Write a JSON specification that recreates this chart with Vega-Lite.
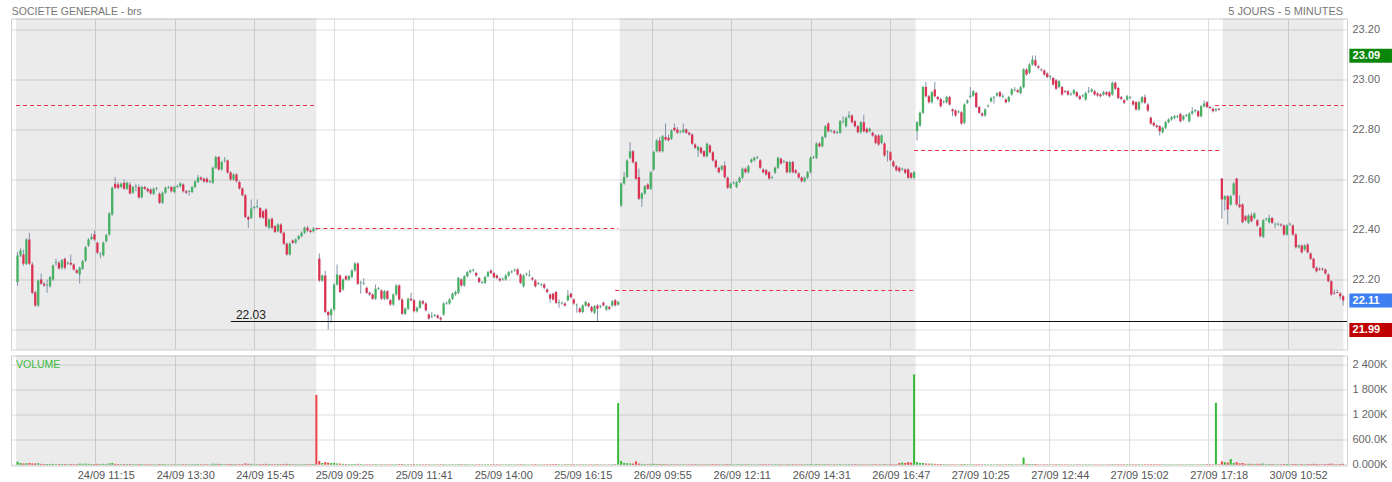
{
"$schema":"https://vega.github.io/schema/vega-lite/v6.json",
"background":"white",
"padding":{"left":10,"top":5.5,"right":0,"bottom":0},
"spacing":4,
"config":{"view":{"stroke":"#d0d0d0"},"font":"Liberation Sans","scale":{"continuousPadding":0},"axis":{"gridColor":"#dddddd","gridWidth":1,"domain":false,"ticks":false,"labelFont":"Liberation Sans","labelOverlap":false,"labelSeparation":0,"labelBound":false}},
"datasets":{
"days":[
{"d":1,"s0":-0.5,"s1":101,"r0":-0.5,"r1":101,"ref":22.896,"shade":1},
{"d":2,"s0":101,"s1":203.5,"r0":101,"r1":203,"ref":22.404,"shade":0},
{"d":3,"s0":203.5,"s1":303.5,"r0":202,"r1":303.5,"ref":22.156,"shade":1},
{"d":4,"s0":303.5,"s1":407.3,"r0":303,"r1":406.3,"ref":22.716,"shade":0},
{"d":5,"s0":407.3,"s1":448.1,"r0":404.7,"r1":448.1,"ref":22.896,"shade":1}
],
"badges":[{"p":23.095,"t":"23.09","k":"high"},{"p":22.116,"t":"22.11","k":"last"},{"p":21.998,"t":"21.99","k":"low"}],
"c":[
{"i":0,"o":22.19,"h":22.31,"l":22.175,"c":22.296,"v":70},
{"i":1,"o":22.296,"h":22.325,"l":22.29,"c":22.316,"v":40},
{"i":2,"o":22.3,"h":22.32,"l":22.255,"c":22.263,"v":30},
{"i":3,"o":22.263,"h":22.365,"l":22.258,"c":22.36,"v":35},
{"i":4,"o":22.36,"h":22.387,"l":22.258,"c":22.263,"v":40},
{"i":5,"o":22.26,"h":22.27,"l":22.14,"c":22.147,"v":30},
{"i":6,"o":22.149,"h":22.155,"l":22.09,"c":22.096,"v":30},
{"i":7,"o":22.096,"h":22.2,"l":22.09,"c":22.196,"v":35},
{"i":8,"o":22.2,"h":22.224,"l":22.178,"c":22.183,"v":20},
{"i":9,"o":22.183,"h":22.19,"l":22.17,"c":22.176,"v":15},
{"i":10,"o":22.176,"h":22.2,"l":22.147,"c":22.179,"v":15},
{"i":11,"o":22.173,"h":22.215,"l":22.168,"c":22.21,"v":15},
{"i":12,"o":22.2,"h":22.26,"l":22.195,"c":22.256,"v":20},
{"i":13,"o":22.267,"h":22.283,"l":22.255,"c":22.27,"v":12},
{"i":14,"o":22.267,"h":22.275,"l":22.24,"c":22.244,"v":15},
{"i":15,"o":22.247,"h":22.282,"l":22.24,"c":22.277,"v":15},
{"i":16,"o":22.283,"h":22.288,"l":22.24,"c":22.247,"v":15},
{"i":17,"o":22.264,"h":22.272,"l":22.258,"c":22.267,"v":10},
{"i":18,"o":22.267,"h":22.3,"l":22.255,"c":22.26,"v":15},
{"i":19,"o":22.26,"h":22.265,"l":22.235,"c":22.24,"v":12},
{"i":20,"o":22.237,"h":22.242,"l":22.222,"c":22.227,"v":12},
{"i":21,"o":22.22,"h":22.252,"l":22.184,"c":22.247,"v":25},
{"i":22,"o":22.243,"h":22.278,"l":22.238,"c":22.273,"v":20},
{"i":23,"o":22.276,"h":22.334,"l":22.27,"c":22.329,"v":25},
{"i":24,"o":22.336,"h":22.365,"l":22.33,"c":22.36,"v":20},
{"i":25,"o":22.362,"h":22.384,"l":22.357,"c":22.37,"v":15},
{"i":26,"o":22.38,"h":22.396,"l":22.355,"c":22.36,"v":15},
{"i":27,"o":22.347,"h":22.352,"l":22.3,"c":22.307,"v":20},
{"i":28,"o":22.3,"h":22.31,"l":22.285,"c":22.303,"v":15},
{"i":29,"o":22.297,"h":22.352,"l":22.292,"c":22.347,"v":20},
{"i":30,"o":22.353,"h":22.382,"l":22.348,"c":22.377,"v":15},
{"i":31,"o":22.38,"h":22.47,"l":22.375,"c":22.464,"v":30},
{"i":32,"o":22.46,"h":22.572,"l":22.455,"c":22.567,"v":40},
{"i":33,"o":22.583,"h":22.61,"l":22.562,"c":22.567,"v":20},
{"i":34,"o":22.58,"h":22.59,"l":22.56,"c":22.567,"v":15},
{"i":35,"o":22.57,"h":22.588,"l":22.565,"c":22.583,"v":12},
{"i":36,"o":22.587,"h":22.6,"l":22.558,"c":22.563,"v":15},
{"i":37,"o":22.563,"h":22.592,"l":22.558,"c":22.587,"v":12},
{"i":38,"o":22.58,"h":22.59,"l":22.54,"c":22.544,"v":15},
{"i":39,"o":22.547,"h":22.575,"l":22.542,"c":22.57,"v":12},
{"i":40,"o":22.57,"h":22.584,"l":22.553,"c":22.573,"v":10},
{"i":41,"o":22.57,"h":22.58,"l":22.523,"c":22.528,"v":15},
{"i":42,"o":22.529,"h":22.575,"l":22.524,"c":22.57,"v":12},
{"i":43,"o":22.57,"h":22.575,"l":22.558,"c":22.563,"v":10},
{"i":44,"o":22.563,"h":22.568,"l":22.548,"c":22.553,"v":10},
{"i":45,"o":22.56,"h":22.565,"l":22.539,"c":22.544,"v":10},
{"i":46,"o":22.543,"h":22.568,"l":22.538,"c":22.563,"v":10},
{"i":47,"o":22.563,"h":22.57,"l":22.555,"c":22.566,"v":8},
{"i":48,"o":22.543,"h":22.548,"l":22.502,"c":22.507,"v":15},
{"i":49,"o":22.507,"h":22.552,"l":22.502,"c":22.547,"v":15},
{"i":50,"o":22.547,"h":22.572,"l":22.542,"c":22.567,"v":12},
{"i":51,"o":22.567,"h":22.575,"l":22.562,"c":22.57,"v":8},
{"i":52,"o":22.57,"h":22.575,"l":22.548,"c":22.553,"v":10},
{"i":53,"o":22.55,"h":22.575,"l":22.545,"c":22.57,"v":10},
{"i":54,"o":22.57,"h":22.58,"l":22.565,"c":22.573,"v":8},
{"i":55,"o":22.573,"h":22.59,"l":22.568,"c":22.584,"v":10},
{"i":56,"o":22.58,"h":22.585,"l":22.548,"c":22.553,"v":12},
{"i":57,"o":22.553,"h":22.558,"l":22.542,"c":22.547,"v":10},
{"i":58,"o":22.55,"h":22.558,"l":22.535,"c":22.553,"v":10},
{"i":59,"o":22.55,"h":22.575,"l":22.545,"c":22.57,"v":10},
{"i":60,"o":22.57,"h":22.597,"l":22.565,"c":22.592,"v":12},
{"i":61,"o":22.59,"h":22.618,"l":22.585,"c":22.608,"v":15},
{"i":62,"o":22.608,"h":22.613,"l":22.595,"c":22.6,"v":10},
{"i":63,"o":22.603,"h":22.608,"l":22.587,"c":22.592,"v":10},
{"i":64,"o":22.603,"h":22.61,"l":22.585,"c":22.59,"v":10},
{"i":65,"o":22.59,"h":22.598,"l":22.585,"c":22.593,"v":8},
{"i":66,"o":22.587,"h":22.652,"l":22.582,"c":22.647,"v":25},
{"i":67,"o":22.647,"h":22.695,"l":22.642,"c":22.69,"v":20},
{"i":68,"o":22.69,"h":22.695,"l":22.635,"c":22.64,"v":20},
{"i":69,"o":22.64,"h":22.675,"l":22.635,"c":22.67,"v":15},
{"i":70,"o":22.676,"h":22.69,"l":22.668,"c":22.679,"v":10},
{"i":71,"o":22.676,"h":22.68,"l":22.623,"c":22.628,"v":15},
{"i":72,"o":22.628,"h":22.633,"l":22.595,"c":22.6,"v":15},
{"i":73,"o":22.6,"h":22.625,"l":22.595,"c":22.62,"v":12},
{"i":74,"o":22.62,"h":22.625,"l":22.588,"c":22.593,"v":12},
{"i":75,"o":22.59,"h":22.595,"l":22.559,"c":22.564,"v":12},
{"i":76,"o":22.564,"h":22.569,"l":22.532,"c":22.537,"v":15},
{"i":77,"o":22.537,"h":22.542,"l":22.445,"c":22.45,"v":30},
{"i":78,"o":22.45,"h":22.455,"l":22.407,"c":22.44,"v":20},
{"i":79,"o":22.447,"h":22.52,"l":22.442,"c":22.484,"v":20},
{"i":80,"o":22.486,"h":22.495,"l":22.48,"c":22.49,"v":10},
{"i":81,"o":22.49,"h":22.52,"l":22.485,"c":22.493,"v":10},
{"i":82,"o":22.486,"h":22.49,"l":22.444,"c":22.449,"v":15},
{"i":83,"o":22.473,"h":22.478,"l":22.442,"c":22.447,"v":12},
{"i":84,"o":22.48,"h":22.485,"l":22.408,"c":22.413,"v":20},
{"i":85,"o":22.407,"h":22.445,"l":22.402,"c":22.44,"v":15},
{"i":86,"o":22.443,"h":22.448,"l":22.402,"c":22.407,"v":12},
{"i":87,"o":22.413,"h":22.418,"l":22.385,"c":22.39,"v":12},
{"i":88,"o":22.393,"h":22.425,"l":22.388,"c":22.42,"v":12},
{"i":89,"o":22.42,"h":22.425,"l":22.382,"c":22.387,"v":12},
{"i":90,"o":22.387,"h":22.392,"l":22.338,"c":22.343,"v":15},
{"i":91,"o":22.343,"h":22.348,"l":22.295,"c":22.3,"v":20},
{"i":92,"o":22.3,"h":22.348,"l":22.295,"c":22.343,"v":15},
{"i":93,"o":22.356,"h":22.36,"l":22.342,"c":22.347,"v":10},
{"i":94,"o":22.347,"h":22.365,"l":22.342,"c":22.36,"v":10},
{"i":95,"o":22.362,"h":22.378,"l":22.357,"c":22.373,"v":10},
{"i":96,"o":22.373,"h":22.392,"l":22.368,"c":22.387,"v":10},
{"i":97,"o":22.387,"h":22.412,"l":22.382,"c":22.407,"v":12},
{"i":98,"o":22.407,"h":22.415,"l":22.39,"c":22.396,"v":12},
{"i":99,"o":22.396,"h":22.4,"l":22.385,"c":22.39,"v":12},
{"i":100,"o":22.393,"h":22.41,"l":22.388,"c":22.404,"v":15},
{"i":101,"o":22.404,"h":22.408,"l":22.398,"c":22.401,"v":1678},
{"i":102,"o":22.284,"h":22.304,"l":22.19,"c":22.196,"v":90},
{"i":103,"o":22.196,"h":22.22,"l":22.19,"c":22.216,"v":40},
{"i":104,"o":22.216,"h":22.235,"l":22.065,"c":22.07,"v":60},
{"i":105,"o":22.07,"h":22.075,"l":22.0,"c":22.057,"v":50},
{"i":106,"o":22.057,"h":22.085,"l":22.027,"c":22.08,"v":40},
{"i":107,"o":22.08,"h":22.185,"l":22.075,"c":22.18,"v":40},
{"i":108,"o":22.18,"h":22.26,"l":22.175,"c":22.22,"v":30},
{"i":109,"o":22.216,"h":22.22,"l":22.145,"c":22.15,"v":25},
{"i":110,"o":22.16,"h":22.205,"l":22.155,"c":22.2,"v":20},
{"i":111,"o":22.213,"h":22.218,"l":22.195,"c":22.2,"v":15},
{"i":112,"o":22.2,"h":22.218,"l":22.195,"c":22.213,"v":12},
{"i":113,"o":22.21,"h":22.241,"l":22.205,"c":22.236,"v":15},
{"i":114,"o":22.236,"h":22.269,"l":22.231,"c":22.264,"v":15},
{"i":115,"o":22.264,"h":22.269,"l":22.178,"c":22.183,"v":20},
{"i":116,"o":22.187,"h":22.195,"l":22.143,"c":22.19,"v":12},
{"i":117,"o":22.183,"h":22.205,"l":22.178,"c":22.186,"v":10},
{"i":118,"o":22.167,"h":22.172,"l":22.142,"c":22.147,"v":12},
{"i":119,"o":22.147,"h":22.152,"l":22.135,"c":22.14,"v":10},
{"i":120,"o":22.14,"h":22.145,"l":22.118,"c":22.123,"v":10},
{"i":121,"o":22.123,"h":22.18,"l":22.118,"c":22.163,"v":12},
{"i":122,"o":22.163,"h":22.17,"l":22.158,"c":22.166,"v":8},
{"i":123,"o":22.156,"h":22.161,"l":22.118,"c":22.123,"v":12},
{"i":124,"o":22.123,"h":22.158,"l":22.118,"c":22.153,"v":10},
{"i":125,"o":22.153,"h":22.158,"l":22.118,"c":22.123,"v":10},
{"i":126,"o":22.117,"h":22.122,"l":22.095,"c":22.1,"v":10},
{"i":127,"o":22.1,"h":22.145,"l":22.095,"c":22.14,"v":12},
{"i":128,"o":22.14,"h":22.181,"l":22.135,"c":22.176,"v":12},
{"i":129,"o":22.176,"h":22.181,"l":22.115,"c":22.12,"v":15},
{"i":130,"o":22.12,"h":22.125,"l":22.058,"c":22.063,"v":15},
{"i":131,"o":22.063,"h":22.088,"l":22.058,"c":22.083,"v":10},
{"i":132,"o":22.083,"h":22.128,"l":22.078,"c":22.123,"v":10},
{"i":133,"o":22.123,"h":22.147,"l":22.112,"c":22.117,"v":10},
{"i":134,"o":22.117,"h":22.122,"l":22.068,"c":22.073,"v":12},
{"i":135,"o":22.073,"h":22.092,"l":22.068,"c":22.087,"v":10},
{"i":136,"o":22.087,"h":22.118,"l":22.082,"c":22.113,"v":10},
{"i":137,"o":22.113,"h":22.118,"l":22.099,"c":22.104,"v":8},
{"i":138,"o":22.104,"h":22.109,"l":22.072,"c":22.077,"v":10},
{"i":139,"o":22.06,"h":22.065,"l":22.039,"c":22.044,"v":10},
{"i":140,"o":22.05,"h":22.07,"l":22.045,"c":22.053,"v":8},
{"i":141,"o":22.056,"h":22.062,"l":22.05,"c":22.059,"v":8},
{"i":142,"o":22.056,"h":22.061,"l":22.042,"c":22.047,"v":8},
{"i":143,"o":22.047,"h":22.052,"l":22.035,"c":22.04,"v":10},
{"i":144,"o":22.06,"h":22.109,"l":22.055,"c":22.104,"v":12},
{"i":145,"o":22.104,"h":22.112,"l":22.099,"c":22.107,"v":8},
{"i":146,"o":22.104,"h":22.125,"l":22.099,"c":22.12,"v":10},
{"i":147,"o":22.123,"h":22.148,"l":22.118,"c":22.143,"v":10},
{"i":148,"o":22.14,"h":22.155,"l":22.135,"c":22.15,"v":10},
{"i":149,"o":22.147,"h":22.211,"l":22.142,"c":22.206,"v":15},
{"i":150,"o":22.2,"h":22.205,"l":22.171,"c":22.176,"v":12},
{"i":151,"o":22.176,"h":22.218,"l":22.171,"c":22.213,"v":12},
{"i":152,"o":22.213,"h":22.234,"l":22.208,"c":22.229,"v":10},
{"i":153,"o":22.229,"h":22.241,"l":22.224,"c":22.236,"v":10},
{"i":154,"o":22.236,"h":22.244,"l":22.231,"c":22.239,"v":8},
{"i":155,"o":22.226,"h":22.231,"l":22.211,"c":22.216,"v":10},
{"i":156,"o":22.206,"h":22.211,"l":22.185,"c":22.19,"v":10},
{"i":157,"o":22.187,"h":22.195,"l":22.182,"c":22.19,"v":8},
{"i":158,"o":22.187,"h":22.215,"l":22.182,"c":22.21,"v":10},
{"i":159,"o":22.213,"h":22.234,"l":22.208,"c":22.229,"v":10},
{"i":160,"o":22.236,"h":22.241,"l":22.221,"c":22.226,"v":10},
{"i":161,"o":22.226,"h":22.231,"l":22.204,"c":22.209,"v":10},
{"i":162,"o":22.216,"h":22.221,"l":22.201,"c":22.206,"v":10},
{"i":163,"o":22.203,"h":22.208,"l":22.191,"c":22.196,"v":10},
{"i":164,"o":22.2,"h":22.208,"l":22.195,"c":22.203,"v":8},
{"i":165,"o":22.2,"h":22.221,"l":22.195,"c":22.216,"v":10},
{"i":166,"o":22.216,"h":22.234,"l":22.211,"c":22.229,"v":10},
{"i":167,"o":22.229,"h":22.237,"l":22.224,"c":22.232,"v":8},
{"i":168,"o":22.236,"h":22.243,"l":22.231,"c":22.239,"v":8},
{"i":169,"o":22.24,"h":22.245,"l":22.215,"c":22.22,"v":10},
{"i":170,"o":22.22,"h":22.225,"l":22.182,"c":22.187,"v":12},
{"i":171,"o":22.173,"h":22.221,"l":22.168,"c":22.216,"v":12},
{"i":172,"o":22.22,"h":22.227,"l":22.215,"c":22.223,"v":8},
{"i":173,"o":22.216,"h":22.237,"l":22.211,"c":22.219,"v":8},
{"i":174,"o":22.206,"h":22.211,"l":22.195,"c":22.2,"v":10},
{"i":175,"o":22.196,"h":22.201,"l":22.168,"c":22.173,"v":12},
{"i":176,"o":22.183,"h":22.19,"l":22.178,"c":22.186,"v":8},
{"i":177,"o":22.177,"h":22.185,"l":22.172,"c":22.18,"v":8},
{"i":178,"o":22.18,"h":22.185,"l":22.162,"c":22.167,"v":10},
{"i":179,"o":22.16,"h":22.165,"l":22.145,"c":22.15,"v":10},
{"i":180,"o":22.14,"h":22.145,"l":22.107,"c":22.123,"v":12},
{"i":181,"o":22.143,"h":22.148,"l":22.115,"c":22.12,"v":12},
{"i":182,"o":22.15,"h":22.155,"l":22.102,"c":22.107,"v":15},
{"i":183,"o":22.107,"h":22.12,"l":22.087,"c":22.11,"v":10},
{"i":184,"o":22.104,"h":22.112,"l":22.099,"c":22.107,"v":8},
{"i":185,"o":22.104,"h":22.109,"l":22.091,"c":22.096,"v":10},
{"i":186,"o":22.117,"h":22.158,"l":22.112,"c":22.136,"v":12},
{"i":187,"o":22.143,"h":22.148,"l":22.124,"c":22.129,"v":10},
{"i":188,"o":22.12,"h":22.125,"l":22.099,"c":22.104,"v":10},
{"i":189,"o":22.096,"h":22.104,"l":22.067,"c":22.099,"v":8},
{"i":190,"o":22.084,"h":22.089,"l":22.065,"c":22.07,"v":10},
{"i":191,"o":22.07,"h":22.101,"l":22.065,"c":22.096,"v":10},
{"i":192,"o":22.096,"h":22.115,"l":22.091,"c":22.11,"v":10},
{"i":193,"o":22.104,"h":22.109,"l":22.088,"c":22.093,"v":8},
{"i":194,"o":22.09,"h":22.095,"l":22.068,"c":22.073,"v":10},
{"i":195,"o":22.067,"h":22.098,"l":22.062,"c":22.093,"v":10},
{"i":196,"o":22.096,"h":22.101,"l":22.033,"c":22.083,"v":12},
{"i":197,"o":22.09,"h":22.098,"l":22.085,"c":22.093,"v":8},
{"i":198,"o":22.107,"h":22.112,"l":22.092,"c":22.097,"v":8},
{"i":199,"o":22.08,"h":22.098,"l":22.075,"c":22.093,"v":8},
{"i":200,"o":22.09,"h":22.095,"l":22.078,"c":22.083,"v":8},
{"i":201,"o":22.096,"h":22.118,"l":22.091,"c":22.113,"v":10},
{"i":202,"o":22.117,"h":22.122,"l":22.092,"c":22.097,"v":12},
{"i":203,"o":22.1,"h":22.115,"l":22.095,"c":22.11,"v":1482},
{"i":204,"o":22.496,"h":22.589,"l":22.49,"c":22.584,"v":90},
{"i":205,"o":22.584,"h":22.63,"l":22.579,"c":22.61,"v":40},
{"i":206,"o":22.61,"h":22.681,"l":22.605,"c":22.676,"v":35},
{"i":207,"o":22.687,"h":22.749,"l":22.682,"c":22.713,"v":30},
{"i":208,"o":22.713,"h":22.718,"l":22.664,"c":22.669,"v":25},
{"i":209,"o":22.669,"h":22.674,"l":22.598,"c":22.603,"v":80},
{"i":210,"o":22.61,"h":22.644,"l":22.518,"c":22.523,"v":25},
{"i":211,"o":22.523,"h":22.549,"l":22.49,"c":22.544,"v":20},
{"i":212,"o":22.544,"h":22.578,"l":22.539,"c":22.573,"v":15},
{"i":213,"o":22.58,"h":22.585,"l":22.558,"c":22.563,"v":12},
{"i":214,"o":22.563,"h":22.634,"l":22.558,"c":22.629,"v":20},
{"i":215,"o":22.64,"h":22.715,"l":22.635,"c":22.71,"v":20},
{"i":216,"o":22.713,"h":22.761,"l":22.708,"c":22.756,"v":15},
{"i":217,"o":22.756,"h":22.77,"l":22.708,"c":22.713,"v":15},
{"i":218,"o":22.713,"h":22.778,"l":22.708,"c":22.773,"v":15},
{"i":219,"o":22.77,"h":22.824,"l":22.755,"c":22.76,"v":12},
{"i":220,"o":22.767,"h":22.78,"l":22.752,"c":22.757,"v":10},
{"i":221,"o":22.763,"h":22.801,"l":22.758,"c":22.796,"v":12},
{"i":222,"o":22.807,"h":22.824,"l":22.792,"c":22.797,"v":10},
{"i":223,"o":22.8,"h":22.81,"l":22.782,"c":22.787,"v":10},
{"i":224,"o":22.789,"h":22.797,"l":22.784,"c":22.792,"v":8},
{"i":225,"o":22.79,"h":22.824,"l":22.785,"c":22.8,"v":10},
{"i":226,"o":22.8,"h":22.805,"l":22.782,"c":22.787,"v":8},
{"i":227,"o":22.787,"h":22.792,"l":22.775,"c":22.78,"v":8},
{"i":228,"o":22.78,"h":22.785,"l":22.738,"c":22.743,"v":12},
{"i":229,"o":22.74,"h":22.745,"l":22.722,"c":22.727,"v":10},
{"i":230,"o":22.717,"h":22.735,"l":22.69,"c":22.73,"v":10},
{"i":231,"o":22.727,"h":22.732,"l":22.702,"c":22.707,"v":10},
{"i":232,"o":22.713,"h":22.718,"l":22.688,"c":22.693,"v":10},
{"i":233,"o":22.693,"h":22.748,"l":22.688,"c":22.743,"v":12},
{"i":234,"o":22.736,"h":22.741,"l":22.704,"c":22.709,"v":10},
{"i":235,"o":22.709,"h":22.714,"l":22.671,"c":22.676,"v":12},
{"i":236,"o":22.676,"h":22.681,"l":22.644,"c":22.649,"v":12},
{"i":237,"o":22.647,"h":22.652,"l":22.624,"c":22.629,"v":10},
{"i":238,"o":22.64,"h":22.658,"l":22.635,"c":22.653,"v":10},
{"i":239,"o":22.656,"h":22.673,"l":22.604,"c":22.609,"v":12},
{"i":240,"o":22.607,"h":22.612,"l":22.562,"c":22.567,"v":15},
{"i":241,"o":22.567,"h":22.588,"l":22.562,"c":22.583,"v":10},
{"i":242,"o":22.585,"h":22.593,"l":22.58,"c":22.588,"v":8},
{"i":243,"o":22.57,"h":22.594,"l":22.565,"c":22.589,"v":10},
{"i":244,"o":22.59,"h":22.612,"l":22.585,"c":22.607,"v":10},
{"i":245,"o":22.607,"h":22.648,"l":22.602,"c":22.643,"v":12},
{"i":246,"o":22.643,"h":22.648,"l":22.624,"c":22.629,"v":10},
{"i":247,"o":22.629,"h":22.658,"l":22.624,"c":22.653,"v":10},
{"i":248,"o":22.67,"h":22.685,"l":22.665,"c":22.68,"v":8},
{"i":249,"o":22.677,"h":22.692,"l":22.672,"c":22.687,"v":8},
{"i":250,"o":22.687,"h":22.695,"l":22.682,"c":22.69,"v":8},
{"i":251,"o":22.677,"h":22.682,"l":22.642,"c":22.647,"v":10},
{"i":252,"o":22.64,"h":22.645,"l":22.624,"c":22.629,"v":10},
{"i":253,"o":22.637,"h":22.642,"l":22.615,"c":22.62,"v":10},
{"i":254,"o":22.629,"h":22.634,"l":22.599,"c":22.604,"v":10},
{"i":255,"o":22.607,"h":22.615,"l":22.602,"c":22.61,"v":8},
{"i":256,"o":22.627,"h":22.652,"l":22.622,"c":22.647,"v":10},
{"i":257,"o":22.647,"h":22.692,"l":22.642,"c":22.687,"v":12},
{"i":258,"o":22.683,"h":22.688,"l":22.659,"c":22.664,"v":10},
{"i":259,"o":22.67,"h":22.678,"l":22.665,"c":22.673,"v":8},
{"i":260,"o":22.67,"h":22.675,"l":22.624,"c":22.629,"v":12},
{"i":261,"o":22.629,"h":22.675,"l":22.624,"c":22.67,"v":10},
{"i":262,"o":22.67,"h":22.675,"l":22.624,"c":22.629,"v":10},
{"i":263,"o":22.637,"h":22.642,"l":22.622,"c":22.627,"v":8},
{"i":264,"o":22.624,"h":22.629,"l":22.603,"c":22.608,"v":10},
{"i":265,"o":22.608,"h":22.613,"l":22.588,"c":22.593,"v":10},
{"i":266,"o":22.593,"h":22.612,"l":22.588,"c":22.607,"v":10},
{"i":267,"o":22.607,"h":22.634,"l":22.602,"c":22.629,"v":10},
{"i":268,"o":22.629,"h":22.692,"l":22.624,"c":22.687,"v":15},
{"i":269,"o":22.687,"h":22.695,"l":22.682,"c":22.69,"v":8},
{"i":270,"o":22.687,"h":22.749,"l":22.682,"c":22.744,"v":15},
{"i":271,"o":22.744,"h":22.749,"l":22.728,"c":22.733,"v":10},
{"i":272,"o":22.733,"h":22.775,"l":22.728,"c":22.77,"v":12},
{"i":273,"o":22.77,"h":22.818,"l":22.765,"c":22.813,"v":12},
{"i":274,"o":22.824,"h":22.829,"l":22.788,"c":22.793,"v":10},
{"i":275,"o":22.793,"h":22.8,"l":22.788,"c":22.796,"v":8},
{"i":276,"o":22.793,"h":22.798,"l":22.782,"c":22.787,"v":8},
{"i":277,"o":22.787,"h":22.795,"l":22.782,"c":22.79,"v":8},
{"i":278,"o":22.787,"h":22.838,"l":22.782,"c":22.833,"v":12},
{"i":279,"o":22.829,"h":22.853,"l":22.824,"c":22.832,"v":8},
{"i":280,"o":22.813,"h":22.852,"l":22.808,"c":22.847,"v":10},
{"i":281,"o":22.849,"h":22.873,"l":22.844,"c":22.856,"v":10},
{"i":282,"o":22.856,"h":22.861,"l":22.824,"c":22.829,"v":10},
{"i":283,"o":22.833,"h":22.838,"l":22.808,"c":22.813,"v":10},
{"i":284,"o":22.813,"h":22.818,"l":22.784,"c":22.789,"v":10},
{"i":285,"o":22.789,"h":22.834,"l":22.784,"c":22.829,"v":10},
{"i":286,"o":22.829,"h":22.859,"l":22.788,"c":22.793,"v":10},
{"i":287,"o":22.803,"h":22.808,"l":22.784,"c":22.789,"v":8},
{"i":288,"o":22.793,"h":22.808,"l":22.788,"c":22.803,"v":8},
{"i":289,"o":22.787,"h":22.792,"l":22.771,"c":22.776,"v":8},
{"i":290,"o":22.776,"h":22.781,"l":22.741,"c":22.746,"v":10},
{"i":291,"o":22.776,"h":22.781,"l":22.735,"c":22.74,"v":10},
{"i":292,"o":22.746,"h":22.781,"l":22.741,"c":22.776,"v":10},
{"i":293,"o":22.744,"h":22.749,"l":22.691,"c":22.696,"v":12},
{"i":294,"o":22.709,"h":22.717,"l":22.672,"c":22.712,"v":8},
{"i":295,"o":22.709,"h":22.714,"l":22.672,"c":22.677,"v":12},
{"i":296,"o":22.672,"h":22.677,"l":22.648,"c":22.653,"v":10},
{"i":297,"o":22.653,"h":22.658,"l":22.632,"c":22.637,"v":10},
{"i":298,"o":22.647,"h":22.652,"l":22.628,"c":22.633,"v":40},
{"i":299,"o":22.64,"h":22.648,"l":22.635,"c":22.643,"v":50},
{"i":300,"o":22.64,"h":22.645,"l":22.622,"c":22.627,"v":40},
{"i":301,"o":22.64,"h":22.645,"l":22.602,"c":22.607,"v":60},
{"i":302,"o":22.625,"h":22.63,"l":22.602,"c":22.607,"v":50},
{"i":303,"o":22.607,"h":22.634,"l":22.602,"c":22.629,"v":2172},
{"i":304,"o":22.793,"h":22.834,"l":22.756,"c":22.829,"v":60},
{"i":305,"o":22.816,"h":22.872,"l":22.811,"c":22.867,"v":40},
{"i":306,"o":22.867,"h":22.975,"l":22.862,"c":22.97,"v":40},
{"i":307,"o":22.97,"h":22.99,"l":22.928,"c":22.933,"v":30},
{"i":308,"o":22.933,"h":22.938,"l":22.904,"c":22.909,"v":25},
{"i":309,"o":22.909,"h":22.954,"l":22.904,"c":22.949,"v":25},
{"i":310,"o":22.96,"h":22.99,"l":22.928,"c":22.933,"v":20},
{"i":311,"o":22.93,"h":22.935,"l":22.917,"c":22.922,"v":15},
{"i":312,"o":22.922,"h":22.927,"l":22.888,"c":22.893,"v":15},
{"i":313,"o":22.909,"h":22.917,"l":22.904,"c":22.912,"v":10},
{"i":314,"o":22.909,"h":22.935,"l":22.904,"c":22.93,"v":10},
{"i":315,"o":22.93,"h":22.935,"l":22.895,"c":22.9,"v":12},
{"i":316,"o":22.88,"h":22.885,"l":22.853,"c":22.873,"v":10},
{"i":317,"o":22.876,"h":22.881,"l":22.851,"c":22.856,"v":10},
{"i":318,"o":22.869,"h":22.877,"l":22.864,"c":22.872,"v":8},
{"i":319,"o":22.869,"h":22.874,"l":22.819,"c":22.824,"v":12},
{"i":320,"o":22.827,"h":22.905,"l":22.822,"c":22.9,"v":15},
{"i":321,"o":22.907,"h":22.921,"l":22.902,"c":22.916,"v":10},
{"i":322,"o":22.93,"h":22.97,"l":22.925,"c":22.936,"v":10},
{"i":323,"o":22.936,"h":22.958,"l":22.931,"c":22.953,"v":10},
{"i":324,"o":22.946,"h":22.951,"l":22.885,"c":22.89,"v":12},
{"i":325,"o":22.89,"h":22.895,"l":22.862,"c":22.867,"v":12},
{"i":326,"o":22.864,"h":22.869,"l":22.851,"c":22.856,"v":10},
{"i":327,"o":22.856,"h":22.885,"l":22.851,"c":22.88,"v":10},
{"i":328,"o":22.893,"h":22.9,"l":22.888,"c":22.896,"v":8},
{"i":329,"o":22.913,"h":22.931,"l":22.908,"c":22.926,"v":10},
{"i":330,"o":22.926,"h":22.934,"l":22.904,"c":22.929,"v":8},
{"i":331,"o":22.936,"h":22.949,"l":22.931,"c":22.944,"v":10},
{"i":332,"o":22.949,"h":22.954,"l":22.928,"c":22.933,"v":10},
{"i":333,"o":22.93,"h":22.943,"l":22.925,"c":22.933,"v":8},
{"i":334,"o":22.92,"h":22.925,"l":22.904,"c":22.909,"v":10},
{"i":335,"o":22.913,"h":22.935,"l":22.908,"c":22.93,"v":10},
{"i":336,"o":22.94,"h":22.965,"l":22.935,"c":22.96,"v":10},
{"i":337,"o":22.957,"h":22.97,"l":22.952,"c":22.96,"v":8},
{"i":338,"o":22.957,"h":22.962,"l":22.945,"c":22.95,"v":8},
{"i":339,"o":22.946,"h":22.974,"l":22.941,"c":22.969,"v":10},
{"i":340,"o":22.969,"h":23.045,"l":22.964,"c":23.04,"v":170},
{"i":341,"o":23.04,"h":23.045,"l":23.015,"c":23.02,"v":20},
{"i":342,"o":23.027,"h":23.065,"l":23.022,"c":23.06,"v":15},
{"i":343,"o":23.06,"h":23.096,"l":23.055,"c":23.08,"v":15},
{"i":344,"o":23.077,"h":23.096,"l":23.051,"c":23.056,"v":15},
{"i":345,"o":23.053,"h":23.058,"l":23.042,"c":23.047,"v":10},
{"i":346,"o":23.04,"h":23.045,"l":23.032,"c":23.037,"v":8},
{"i":347,"o":23.036,"h":23.041,"l":23.015,"c":23.02,"v":10},
{"i":348,"o":23.024,"h":23.029,"l":23.005,"c":23.01,"v":10},
{"i":349,"o":23.01,"h":23.018,"l":23.0,"c":23.013,"v":8},
{"i":350,"o":23.006,"h":23.011,"l":22.975,"c":22.98,"v":10},
{"i":351,"o":22.997,"h":23.002,"l":22.958,"c":22.963,"v":12},
{"i":352,"o":22.97,"h":22.998,"l":22.965,"c":22.993,"v":10},
{"i":353,"o":22.97,"h":22.975,"l":22.935,"c":22.94,"v":10},
{"i":354,"o":22.953,"h":22.958,"l":22.945,"c":22.95,"v":8},
{"i":355,"o":22.953,"h":22.958,"l":22.935,"c":22.94,"v":8},
{"i":356,"o":22.94,"h":22.948,"l":22.935,"c":22.943,"v":8},
{"i":357,"o":22.944,"h":22.962,"l":22.939,"c":22.957,"v":8},
{"i":358,"o":22.949,"h":22.954,"l":22.928,"c":22.933,"v":8},
{"i":359,"o":22.933,"h":22.938,"l":22.917,"c":22.922,"v":10},
{"i":360,"o":22.933,"h":22.941,"l":22.928,"c":22.936,"v":8},
{"i":361,"o":22.92,"h":22.951,"l":22.915,"c":22.946,"v":10},
{"i":362,"o":22.95,"h":22.97,"l":22.945,"c":22.953,"v":8},
{"i":363,"o":22.953,"h":22.965,"l":22.948,"c":22.96,"v":8},
{"i":364,"o":22.953,"h":22.958,"l":22.935,"c":22.94,"v":8},
{"i":365,"o":22.944,"h":22.949,"l":22.931,"c":22.936,"v":8},
{"i":366,"o":22.94,"h":22.945,"l":22.928,"c":22.933,"v":8},
{"i":367,"o":22.94,"h":22.954,"l":22.935,"c":22.949,"v":8},
{"i":368,"o":22.949,"h":22.954,"l":22.935,"c":22.94,"v":8},
{"i":369,"o":22.949,"h":22.954,"l":22.928,"c":22.933,"v":8},
{"i":370,"o":22.94,"h":22.992,"l":22.935,"c":22.987,"v":12},
{"i":371,"o":22.987,"h":22.992,"l":22.958,"c":22.963,"v":10},
{"i":372,"o":22.966,"h":22.971,"l":22.921,"c":22.926,"v":12},
{"i":373,"o":22.929,"h":22.934,"l":22.917,"c":22.922,"v":10},
{"i":374,"o":22.917,"h":22.922,"l":22.902,"c":22.907,"v":10},
{"i":375,"o":22.92,"h":22.938,"l":22.915,"c":22.933,"v":10},
{"i":376,"o":22.926,"h":22.934,"l":22.921,"c":22.929,"v":8},
{"i":377,"o":22.913,"h":22.918,"l":22.895,"c":22.9,"v":10},
{"i":378,"o":22.909,"h":22.914,"l":22.875,"c":22.88,"v":10},
{"i":379,"o":22.88,"h":22.914,"l":22.875,"c":22.909,"v":10},
{"i":380,"o":22.909,"h":22.934,"l":22.904,"c":22.929,"v":10},
{"i":381,"o":22.929,"h":22.94,"l":22.902,"c":22.907,"v":10},
{"i":382,"o":22.9,"h":22.905,"l":22.871,"c":22.876,"v":10},
{"i":383,"o":22.847,"h":22.852,"l":22.819,"c":22.824,"v":12},
{"i":384,"o":22.827,"h":22.832,"l":22.811,"c":22.816,"v":10},
{"i":385,"o":22.816,"h":22.821,"l":22.805,"c":22.81,"v":10},
{"i":386,"o":22.813,"h":22.818,"l":22.776,"c":22.793,"v":12},
{"i":387,"o":22.789,"h":22.812,"l":22.784,"c":22.807,"v":10},
{"i":388,"o":22.807,"h":22.834,"l":22.802,"c":22.829,"v":10},
{"i":389,"o":22.829,"h":22.845,"l":22.824,"c":22.84,"v":10},
{"i":390,"o":22.84,"h":22.854,"l":22.835,"c":22.849,"v":8},
{"i":391,"o":22.846,"h":22.858,"l":22.841,"c":22.853,"v":8},
{"i":392,"o":22.85,"h":22.858,"l":22.845,"c":22.853,"v":8},
{"i":393,"o":22.862,"h":22.867,"l":22.828,"c":22.833,"v":10},
{"i":394,"o":22.84,"h":22.858,"l":22.835,"c":22.853,"v":8},
{"i":395,"o":22.855,"h":22.863,"l":22.85,"c":22.858,"v":8},
{"i":396,"o":22.833,"h":22.869,"l":22.828,"c":22.864,"v":10},
{"i":397,"o":22.864,"h":22.89,"l":22.859,"c":22.873,"v":10},
{"i":398,"o":22.873,"h":22.882,"l":22.868,"c":22.877,"v":8},
{"i":399,"o":22.873,"h":22.878,"l":22.848,"c":22.853,"v":10},
{"i":400,"o":22.853,"h":22.898,"l":22.848,"c":22.893,"v":10},
{"i":401,"o":22.893,"h":22.917,"l":22.888,"c":22.904,"v":10},
{"i":402,"o":22.909,"h":22.914,"l":22.885,"c":22.89,"v":12},
{"i":403,"o":22.89,"h":22.895,"l":22.881,"c":22.886,"v":10},
{"i":404,"o":22.883,"h":22.888,"l":22.868,"c":22.873,"v":10},
{"i":405,"o":22.876,"h":22.886,"l":22.871,"c":22.881,"v":1489},
{"i":406,"o":22.883,"h":22.886,"l":22.876,"c":22.879,"v":12},
{"i":407,"o":22.604,"h":22.606,"l":22.443,"c":22.52,"v":80},
{"i":408,"o":22.52,"h":22.538,"l":22.476,"c":22.533,"v":60},
{"i":409,"o":22.533,"h":22.538,"l":22.42,"c":22.48,"v":50},
{"i":410,"o":22.5,"h":22.538,"l":22.495,"c":22.533,"v":135},
{"i":411,"o":22.54,"h":22.589,"l":22.535,"c":22.584,"v":40},
{"i":412,"o":22.604,"h":22.606,"l":22.495,"c":22.5,"v":60},
{"i":413,"o":22.5,"h":22.536,"l":22.485,"c":22.49,"v":30},
{"i":414,"o":22.5,"h":22.505,"l":22.424,"c":22.429,"v":40},
{"i":415,"o":22.453,"h":22.458,"l":22.432,"c":22.437,"v":20},
{"i":416,"o":22.427,"h":22.461,"l":22.422,"c":22.456,"v":20},
{"i":417,"o":22.456,"h":22.467,"l":22.428,"c":22.433,"v":20},
{"i":418,"o":22.446,"h":22.469,"l":22.441,"c":22.464,"v":15},
{"i":419,"o":22.437,"h":22.442,"l":22.411,"c":22.416,"v":20},
{"i":420,"o":22.407,"h":22.412,"l":22.368,"c":22.373,"v":20},
{"i":421,"o":22.371,"h":22.442,"l":22.366,"c":22.437,"v":25},
{"i":422,"o":22.44,"h":22.448,"l":22.435,"c":22.443,"v":10},
{"i":423,"o":22.429,"h":22.46,"l":22.424,"c":22.446,"v":15},
{"i":424,"o":22.446,"h":22.451,"l":22.422,"c":22.427,"v":15},
{"i":425,"o":22.42,"h":22.428,"l":22.405,"c":22.423,"v":10},
{"i":426,"o":22.42,"h":22.428,"l":22.415,"c":22.423,"v":10},
{"i":427,"o":22.42,"h":22.425,"l":22.411,"c":22.416,"v":10},
{"i":428,"o":22.416,"h":22.421,"l":22.375,"c":22.38,"v":15},
{"i":429,"o":22.38,"h":22.421,"l":22.375,"c":22.416,"v":15},
{"i":430,"o":22.42,"h":22.428,"l":22.415,"c":22.423,"v":10},
{"i":431,"o":22.416,"h":22.421,"l":22.375,"c":22.38,"v":15},
{"i":432,"o":22.38,"h":22.385,"l":22.324,"c":22.329,"v":20},
{"i":433,"o":22.329,"h":22.341,"l":22.324,"c":22.336,"v":10},
{"i":434,"o":22.336,"h":22.341,"l":22.304,"c":22.309,"v":15},
{"i":435,"o":22.32,"h":22.341,"l":22.315,"c":22.336,"v":10},
{"i":436,"o":22.34,"h":22.345,"l":22.304,"c":22.309,"v":15},
{"i":437,"o":22.304,"h":22.309,"l":22.278,"c":22.283,"v":15},
{"i":438,"o":22.283,"h":22.288,"l":22.242,"c":22.247,"v":20},
{"i":439,"o":22.247,"h":22.252,"l":22.228,"c":22.233,"v":15},
{"i":440,"o":22.243,"h":22.248,"l":22.235,"c":22.24,"v":10},
{"i":441,"o":22.243,"h":22.248,"l":22.235,"c":22.24,"v":10},
{"i":442,"o":22.24,"h":22.245,"l":22.219,"c":22.224,"v":15},
{"i":443,"o":22.22,"h":22.225,"l":22.188,"c":22.193,"v":20},
{"i":444,"o":22.193,"h":22.198,"l":22.135,"c":22.14,"v":25},
{"i":445,"o":22.147,"h":22.16,"l":22.14,"c":22.144,"v":10},
{"i":446,"o":22.15,"h":22.16,"l":22.145,"c":22.147,"v":10},
{"i":447,"o":22.144,"h":22.149,"l":22.12,"c":22.133,"v":15},
{"i":448,"o":22.133,"h":22.138,"l":22.096,"c":22.116,"v":20}
]},
"vconcat":[
{
"width":1336,"height":331,
"layer":[
{"data":{"name":"days"},"transform":[{"filter":"datum.shade == 1"}],"mark":{"type":"rect","color":"#000000","opacity":0.08},
 "encoding":{"x":{"field":"s0","type":"quantitative","scale":{"domain":[-2.2,449.3],"nice":false,"zero":false,"padding":0},"axis":{"title":null,"values":[26.29,53.15,80.02,106.88,133.75,160.61,187.47,214.34,241.2,268.07,294.93,321.79,348.66,375.52,402.39,429.25],"labels":false,"grid":true,"orient":"bottom"}},"x2":{"field":"s1"}}},
{"data":{"name":"days"},"mark":{"type":"rule","color":"#e8324a","strokeDash":[4,3],"strokeWidth":1},
 "encoding":{"x":{"field":"r0","type":"quantitative"},"x2":{"field":"r1"},"y":{"field":"ref","type":"quantitative","scale":{"domain":[21.92,23.244],"nice":false,"zero":false,"padding":0},"axis":{"title":null,"orient":"right","values":[22.0,22.2,22.4,22.6,22.8,23.0,23.2],"format":".2f","labelColor":"#666666","labelFontSize":11,"labelPadding":5,"grid":true}}}},
{"data":{"name":"c"},"mark":{"type":"rule","color":"#8094ae","strokeWidth":1},
 "encoding":{"x":{"field":"i","type":"quantitative"},"y":{"field":"l","type":"quantitative"},"y2":{"field":"h"}}},
{"data":{"name":"c"},"mark":{"type":"bar","width":2.3},
 "encoding":{"x":{"field":"i","type":"quantitative"},"y":{"field":"o","type":"quantitative"},"y2":{"field":"c"},
 "color":{"condition":{"test":"datum.c >= datum.o","value":"#47b062"},"value":"#dc3252"}}},
{"data":{"values":[{}]},"mark":{"type":"rule","color":"#111111","strokeWidth":1},
 "encoding":{"y":{"datum":22.032},"x":{"datum":72.1},"x2":{"datum":449.3}}},
{"data":{"values":[{}]},"mark":{"type":"text","align":"left","baseline":"alphabetic","fontSize":12,"color":"#222222","font":"Liberation Sans"},
 "encoding":{"y":{"datum":22.041},"x":{"datum":73.8},"text":{"value":"22.03"}}},
{"data":{"values":[{}]},"mark":{"type":"text","align":"left","baseline":"alphabetic","fontSize":10.5,"color":"#777777","font":"Liberation Sans"},
 "encoding":{"y":{"datum":23.257},"x":{"datum":-1.96},"text":{"value":"SOCIETE GENERALE - brs"}}},
{"data":{"values":[{}]},"mark":{"type":"text","align":"right","baseline":"alphabetic","fontSize":11,"color":"#777777","font":"Liberation Sans"},
 "encoding":{"y":{"datum":23.257},"x":{"datum":448},"text":{"value":"5 JOURS - 5 MINUTES"}}},
{"data":{"name":"badges"},"mark":{"type":"bar","orient":"horizontal","size":14,"clip":false},
 "encoding":{"y":{"field":"p","type":"quantitative"},"x":{"datum":450.1},"x2":{"datum":464.5},
 "color":{"field":"k","type":"nominal","scale":{"domain":["high","last","low"],"range":["#0a870a","#3d7ef2","#c00000"]},"legend":null}}},
{"data":{"name":"badges"},"mark":{"type":"text","align":"left","baseline":"middle","fontSize":11,"fontWeight":"bold","color":"white","font":"Liberation Sans"},
 "encoding":{"y":{"field":"p","type":"quantitative"},"x":{"datum":451.2},"text":{"field":"t"}}}
]
},
{
"width":1336,"height":110,
"layer":[
{"data":{"name":"days"},"transform":[{"filter":"datum.shade == 1"}],"mark":{"type":"rect","color":"#000000","opacity":0.08},
 "encoding":{"x":{"field":"s0","type":"quantitative","scale":{"domain":[-2.2,449.3],"nice":false,"zero":false,"padding":0},"axis":{"title":null,"values":[26.29,53.15,80.02,106.88,133.75,160.61,187.47,214.34,241.2,268.07,294.93,321.79,348.66,375.52,402.39,429.25],"grid":true,"orient":"bottom","labelColor":"#555555","labelFontSize":11,"labelPadding":4,"labelOffset":10.5,"labelFlush":false,"labelOverlap":false,
 "labelExpr":"['24/09 11:15','24/09 13:30','24/09 15:45','25/09 09:25','25/09 11:41','25/09 14:00','25/09 16:15','26/09 09:55','26/09 12:11','26/09 14:31','26/09 16:47','27/09 10:25','27/09 12:44','27/09 15:02','27/09 17:18','30/09 10:52'][round((datum.value - 26.29) / 26.864)]"}},"x2":{"field":"s1"}}},
{"data":{"name":"c"},"mark":{"type":"bar","width":2},
 "encoding":{"x":{"field":"i","type":"quantitative"},"y":{"field":"v","type":"quantitative","scale":{"domain":[-20,2626],"nice":false,"zero":false,"padding":0},
 "axis":{"title":null,"orient":"right","values":[0,600,1200,1800,2400],"tickCount":5,"grid":true,"labelColor":"#666666","labelFontSize":11,"labelPadding":5,"labelOverlap":false,"labelFlush":false,
 "labelExpr":"datum.value < 300 ? '0.000K' : datum.value < 900 ? '600.0K' : datum.value < 1500 ? '1 200K' : datum.value < 2100 ? '1 800K' : '2 400K'"}},
 "color":{"condition":{"test":"datum.c >= datum.o","value":"#35b935"},"value":"#ec4444"}}},
{"data":{"values":[{}]},"mark":{"type":"text","align":"left","baseline":"alphabetic","fontSize":10.5,"color":"#3cbc3c","font":"Liberation Sans"},
 "encoding":{"y":{"datum":2330,"type":"quantitative"},"x":{"datum":-0.5},"text":{"value":"VOLUME"}}}
]
}
]
}
